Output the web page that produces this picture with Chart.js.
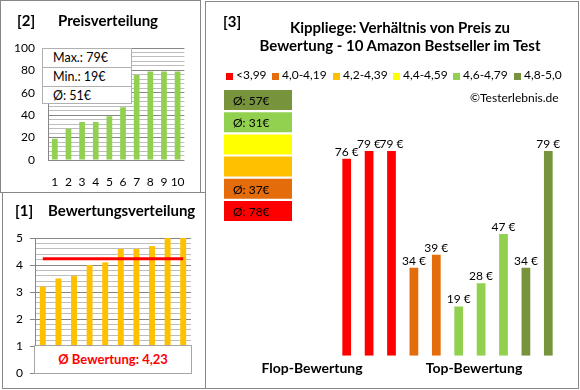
<!DOCTYPE html>
<html>
<head>
<meta charset="utf-8">
<script src="https://cdn.jsdelivr.net/npm/chart.js@4.4.1/dist/chart.umd.min.js"></script>
<style>
body { margin:0; background:#fff; font-family: Lato, sans-serif; color:#000; }
#wrap { position:relative; width:580px; height:390px; overflow:hidden; background:#fff; }
.panel { position:absolute; border:1px solid #878787; box-sizing:border-box; }
.t { position:absolute; white-space:nowrap; line-height:1.2; }
.b { font-weight:bold; }
canvas { position:absolute; }
.sq { position:absolute; width:7px; height:7px; }
#stats { position:absolute; left:42px; top:48px; width:90px; height:56px; background:#fff; border:1px solid #b0b0b0; box-sizing:border-box; font-size:12.5px; }
#stats div { height:18px; line-height:18px; padding-left:10px; border-bottom:1px solid #b0b0b0; }
#stats div:last-child { border-bottom:none; }
#avgbox { position:absolute; left:34px; top:345px; width:158px; height:29px; background:#fff; border:1px solid #a6a6a6; box-sizing:border-box; color:#ff0000; font-weight:bold; font-size:13px; text-align:center; line-height:27px; }
</style>
</head>
<body>
<div id="wrap">
  <div class="panel" style="left:0;top:0;width:201px;height:193px"></div>
  <div class="panel" style="left:2px;top:192px;width:204px;height:197px"></div>
  <div class="panel" style="left:205px;top:1px;width:374px;height:388px"></div>

  <canvas id="priceChart" width="200" height="192" style="left:0;top:0"></canvas>
  <canvas id="ratingChart" width="205" height="196" style="left:0;top:192px"></canvas>
  <canvas id="mainChart" width="373" height="387" style="left:205px;top:1px"></canvas>
  <canvas id="groupChart" width="68" height="133" style="left:224px;top:89px"></canvas>

  <div class="t b" style="left:17px;top:11px;font-size:15px">[2]</div>
  <div class="t b" style="left:58px;top:11px;font-size:15px">Preisverteilung</div>
  <div class="t b" style="left:15px;top:201px;font-size:15px">[1]</div>
  <div class="t b" style="left:48px;top:201px;font-size:15px">Bewertungsverteilung</div>
  <div class="t b" style="left:223px;top:12px;font-size:15px">[3]</div>
  <div class="t b" style="left:230px;width:340px;text-align:center;top:17.5px;font-size:15px">Kippliege: Verhältnis von Preis zu</div>
  <div class="t b" style="left:230px;width:340px;text-align:center;top:36px;font-size:15px">Bewertung - 10 Amazon Bestseller im Test</div>
  <div id="legend"></div>
  <div class="t" style="left:470px;top:91px;font-size:12px">©Testerlebnis.de</div>
  <div class="t b" style="left:252px;width:120px;text-align:center;top:360px;font-size:14px">Flop-Bewertung</div>
  <div class="t b" style="left:414px;width:120px;text-align:center;top:360px;font-size:14px">Top-Bewertung</div>

  <div id="stats"></div>
  <div id="avgbox"></div>
</div>
<script>
// values
var prices = [76, 79, 79, 34, 39, 19, 28, 47, 34, 79];
var ratings = [3.2, 3.5, 3.6, 4.0, 4.1, 4.6, 4.6, 4.7, 5.0, 5.0];
var sortedPrices = [19, 28, 34, 34, 39, 47, 76, 79, 79, 79];
var ranks = ['1', '2', '3', '4', '5', '6', '7', '8', '9', '10'];
var averageRating = 4.23;

var groupNames = ['<3,99', '4,0-4,19', '4,2-4,39', '4,4-4,59', '4,6-4,79', '4,8-5,0'];
var groupColors = ['#FF0000', '#E46C0A', '#FFC000', '#FFFF00', '#92D050', '#77933C'];
// group boxes, top to bottom
var groupBoxLabels = ['Ø: 57€', 'Ø: 31€', '', '', 'Ø: 37€', 'Ø: 78€'];
var groupBoxColors = ['#77933C', '#92D050', '#FFFF00', '#FFC000', '#E46C0A', '#FF0000'];

Chart.defaults.font.family = 'Lato';
Chart.defaults.color = '#000';
Chart.defaults.animation = false;
Chart.defaults.plugins.legend.display = false;
Chart.defaults.plugins.tooltip.enabled = false;

function colorFor(r) {
  if (r < 4) return groupColors[0];
  if (r < 4.2) return groupColors[1];
  if (r < 4.4) return groupColors[2];
  if (r < 4.6) return groupColors[3];
  if (r < 4.8) return groupColors[4];
  return groupColors[5];
}

// legend row
var legendX = [226, 272, 333, 393, 453, 514];
var legend = document.getElementById('legend');
groupNames.forEach(function (name, i) {
  var sq = document.createElement('div');
  sq.className = 'sq';
  sq.style.left = legendX[i] + 'px';
  sq.style.top = '73px';
  sq.style.background = groupColors[i];
  legend.appendChild(sq);
  var tx = document.createElement('div');
  tx.className = 't';
  tx.style.left = (legendX[i] + 10) + 'px';
  tx.style.top = '68px';
  tx.style.fontSize = '12px';
  tx.textContent = name;
  legend.appendChild(tx);
});

// stats box
var maxP = Math.max.apply(null, sortedPrices);
var minP = Math.min.apply(null, sortedPrices);
var avgP = Math.round(sortedPrices.reduce(function (a, b) { return a + b; }, 0) / sortedPrices.length);
document.getElementById('stats').innerHTML =
  '<div>Max.: ' + maxP + '€</div><div>Min.: ' + minP + '€</div><div>Ø: ' + avgP + '€</div>';
document.getElementById('avgbox').textContent = 'Ø Bewertung: ' + averageRating.toFixed(2).replace('.', ',');

var majorGrid = '#868686';
var minorGrid = '#bdbdbd';

// [2] Preisverteilung
new Chart('priceChart', {
  type: 'bar',
  data: {
    labels: ranks,
    datasets: [{ data: sortedPrices, backgroundColor: '#92D050', barPercentage: 0.42, categoryPercentage: 1 }]
  },
  options: {
    responsive: false,
    layout: { padding: { left: 0, right: 9, top: 48, bottom: 0 } },
    scales: {
      x: {
        grid: { display: false, drawTicks: false },
        border: { display: false },
        ticks: { padding: 15, font: { size: 12 }, autoSkip: false, maxRotation: 0, minRotation: 0 },
        afterFit: function (s) { s.height = 32; }
      },
      y: {
        min: 0, max: 100,
        ticks: {
          stepSize: 4, autoSkip: false, padding: 13, font: { size: 12 },
          callback: function (v) { return v % 20 === 0 ? v : ''; }
        },
        grid: {
          drawTicks: false,
          color: function (c) { return c.tick && c.tick.value % 20 === 0 ? majorGrid : minorGrid; }
        },
        border: { display: true, color: majorGrid },
        afterFit: function (s) { s.width = 48; }
      }
    }
  }
});

// [1] Bewertungsverteilung
function isWhole(v) { return Math.abs(v - Math.round(v)) < 1e-6; }
new Chart('ratingChart', {
  type: 'bar',
  data: {
    labels: ranks,
    datasets: [
      { type: 'line', data: ranks.map(function () { return averageRating; }), borderColor: '#FF0000', borderWidth: 3, pointRadius: 0, order: 0 },
      { data: ratings, backgroundColor: '#FFC000', barPercentage: 0.38, categoryPercentage: 1, order: 1 }
    ]
  },
  options: {
    responsive: false,
    layout: { padding: { left: 0, right: 14, top: 46, bottom: 15 } },
    scales: {
      x: { display: false },
      y: {
        min: 0, max: 5,
        ticks: {
          stepSize: 0.2, autoSkip: false, padding: 7, font: { size: 12 },
          callback: function (v) { return isWhole(v) ? Math.round(v) : ''; }
        },
        grid: {
          tickLength: 5,
          color: function (c) { return c.tick && isWhole(c.tick.value) ? majorGrid : minorGrid; },
          tickColor: function (c) { return c.tick && isWhole(c.tick.value) ? majorGrid : 'rgba(0,0,0,0)'; }
        },
        border: { display: true, color: majorGrid },
        afterFit: function (s) { s.width = 35; }
      }
    }
  }
});

// [3] Preis zu Bewertung
var valueLabels = {
  id: 'valueLabels',
  afterDatasetsDraw: function (chart) {
    var ctx = chart.ctx;
    var meta = chart.getDatasetMeta(0);
    ctx.save();
    ctx.font = '12px Lato';
    ctx.fillStyle = '#000';
    ctx.textAlign = 'center';
    ctx.textBaseline = 'alphabetic';
    meta.data.forEach(function (bar, i) {
      ctx.fillText(prices[i] + ' €', bar.x, bar.y - 3);
    });
    ctx.restore();
  }
};
new Chart('mainChart', {
  type: 'bar',
  data: {
    labels: ranks,
    datasets: [{ data: prices, backgroundColor: ratings.map(colorFor), barPercentage: 0.39, categoryPercentage: 1 }]
  },
  options: {
    responsive: false,
    layout: { padding: { left: 130.5, right: 18.5, top: 121.6, bottom: 32.3 } },
    scales: {
      x: { display: false },
      y: { display: false, min: 0, max: 90 }
    }
  },
  plugins: [valueLabels]
});

// rating group boxes with average price
var boxText = {
  id: 'boxText',
  afterDatasetsDraw: function (chart) {
    var ctx = chart.ctx;
    var meta = chart.getDatasetMeta(0);
    ctx.save();
    ctx.font = '12px Lato';
    ctx.fillStyle = '#000';
    ctx.textAlign = 'left';
    ctx.textBaseline = 'middle';
    meta.data.forEach(function (bar, i) {
      ctx.fillText(groupBoxLabels[i], 9, bar.y + 1);
    });
    ctx.restore();
  }
};
new Chart('groupChart', {
  type: 'bar',
  data: {
    labels: groupBoxLabels,
    datasets: [{ data: groupBoxLabels.map(function () { return 1; }), backgroundColor: groupBoxColors, barPercentage: 0.9, categoryPercentage: 1 }]
  },
  options: {
    indexAxis: 'y',
    responsive: false,
    layout: { padding: 0 },
    scales: {
      x: { display: false, min: 0, max: 1 },
      y: { display: false }
    }
  },
  plugins: [boxText]
});
</script>
</body>
</html>
